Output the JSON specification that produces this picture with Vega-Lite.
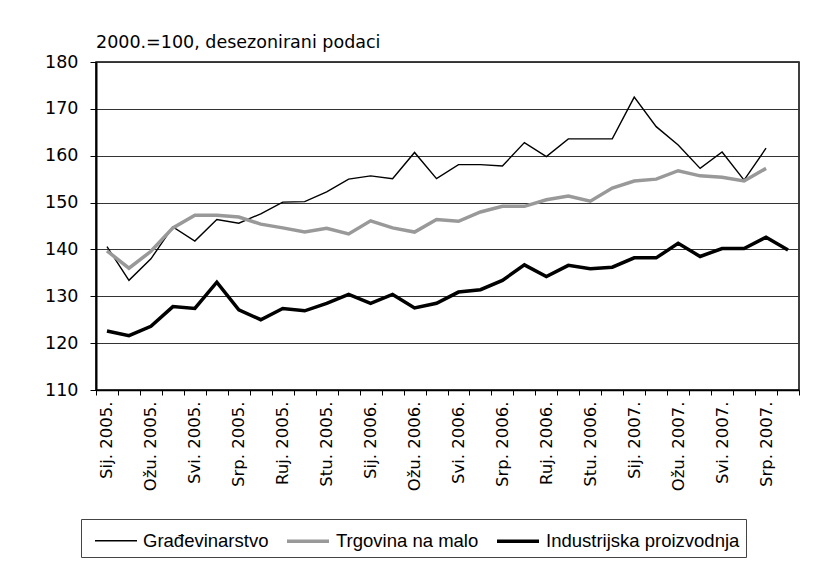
{
  "$schema": "https://vega.github.io/schema/vega-lite/v6.json",
  "width": 703,
  "height": 328,
  "autosize": "none",
  "padding": {"left": 96, "top": 62, "right": 31, "bottom": 186},
  "background": "white",
  "title": {
    "text": "2000.=100, desezonirani podaci",
    "anchor": "start",
    "frame": "group",
    "font": "DejaVu Sans",
    "fontSize": 17.5,
    "fontWeight": "normal",
    "color": "black",
    "offset": 2
  },
  "data": {
    "values": [
      {"m": "Sij. 2005.", "G": 140.6, "T": 139.7, "I": 122.6},
      {"m": "Velj. 2005.", "G": 133.4, "T": 136.0, "I": 121.6},
      {"m": "Ožu. 2005.", "G": 138.0, "T": 139.6, "I": 123.6},
      {"m": "Tra. 2005.", "G": 144.8, "T": 144.6, "I": 127.8},
      {"m": "Svi. 2005.", "G": 141.8, "T": 147.3, "I": 127.4},
      {"m": "Lip. 2005.", "G": 146.4, "T": 147.3, "I": 133.0},
      {"m": "Srp. 2005.", "G": 145.6, "T": 146.9, "I": 127.1},
      {"m": "Kol. 2005.", "G": 147.6, "T": 145.4, "I": 125.0},
      {"m": "Ruj. 2005.", "G": 150.1, "T": 144.6, "I": 127.4},
      {"m": "Lis. 2005.", "G": 150.2, "T": 143.7, "I": 126.9},
      {"m": "Stu. 2005.", "G": 152.3, "T": 144.5, "I": 128.5},
      {"m": "Pro. 2005.", "G": 155.0, "T": 143.3, "I": 130.4},
      {"m": "Sij. 2006.", "G": 155.7, "T": 146.1, "I": 128.5},
      {"m": "Velj. 2006.", "G": 155.1, "T": 144.6, "I": 130.4},
      {"m": "Ožu. 2006.", "G": 160.7, "T": 143.7, "I": 127.5},
      {"m": "Tra. 2006.", "G": 155.1, "T": 146.4, "I": 128.5},
      {"m": "Svi. 2006.", "G": 158.1, "T": 146.0, "I": 130.9},
      {"m": "Lip. 2006.", "G": 158.1, "T": 148.0, "I": 131.4},
      {"m": "Srp. 2006.", "G": 157.8, "T": 149.2, "I": 133.4},
      {"m": "Kol. 2006.", "G": 162.8, "T": 149.2, "I": 136.7},
      {"m": "Ruj. 2006.", "G": 159.8, "T": 150.6, "I": 134.2},
      {"m": "Lis. 2006.", "G": 163.6, "T": 151.4, "I": 136.6},
      {"m": "Stu. 2006.", "G": 163.6, "T": 150.3, "I": 135.9},
      {"m": "Pro. 2006.", "G": 163.6, "T": 153.1, "I": 136.2},
      {"m": "Sij. 2007.", "G": 172.5, "T": 154.6, "I": 138.2},
      {"m": "Velj. 2007.", "G": 166.2, "T": 155.0, "I": 138.2},
      {"m": "Ožu. 2007.", "G": 162.3, "T": 156.8, "I": 141.3},
      {"m": "Tra. 2007.", "G": 157.3, "T": 155.7, "I": 138.5},
      {"m": "Svi. 2007.", "G": 160.8, "T": 155.4, "I": 140.2},
      {"m": "Lip. 2007.", "G": 154.8, "T": 154.6, "I": 140.2},
      {"m": "Srp. 2007.", "G": 161.6, "T": 157.3, "I": 142.6},
      {"m": "Kol. 2007.", "G": null, "T": null, "I": 139.9}
    ]
  },
  "transform": [
    {"fold": ["G", "T", "I"], "as": ["k", "v"]},
    {"lookup": "k", "from": {"data": {"values": [
      {"k": "G", "s": "Građevinarstvo"},
      {"k": "T", "s": "Trgovina na malo"},
      {"k": "I", "s": "Industrijska proizvodnja"}
    ]}, "key": "k", "fields": ["s"]}},
    {"filter": "isValid(datum.v)"}
  ],
  "mark": {"type": "line", "strokeJoin": "miter", "clip": true},
  "encoding": {
    "x": {
      "field": "m",
      "type": "ordinal",
      "sort": null,
      "scale": {"type": "band", "paddingInner": 0, "paddingOuter": 0},
      "axis": {
        "title": null,
        "tickBand": "extent",
        "grid": false,
        "labelAngle": -90,
        "labelAlign": "right",
        "labelBaseline": "middle",
        "labelFont": "DejaVu Sans",
        "labelFontSize": 16.5,
        "labelColor": "black",
        "labelPadding": 6,
        "labelOverlap": false,
        "labelExpr": "test(/^(Velj|Tra|Lip|Kol|Lis|Pro)/, datum.label) ? '' : datum.label",
        "domainColor": "black",
        "domainWidth": 1.5,
        "tickColor": "black",
        "tickSize": 5,
        "tickWidth": 1
      }
    },
    "y": {
      "field": "v",
      "type": "quantitative",
      "scale": {"domain": [110, 180], "nice": false, "zero": false},
      "axis": {
        "title": null,
        "values": [110, 120, 130, 140, 150, 160, 170, 180],
        "grid": true,
        "gridColor": "#333333",
        "gridWidth": 1,
        "labelFont": "DejaVu Sans",
        "labelFontSize": 17.5,
        "labelColor": "black",
        "labelPadding": 12,
        "domainColor": "black",
        "domainWidth": 2,
        "tickColor": "black",
        "tickSize": 6,
        "tickWidth": 1
      }
    },
    "color": {
      "field": "s",
      "type": "nominal",
      "sort": ["Građevinarstvo", "Trgovina na malo", "Industrijska proizvodnja"],
      "scale": {"domain": ["Građevinarstvo", "Trgovina na malo", "Industrijska proizvodnja"], "range": ["#000000", "#999999", "#000000"]},
      "legend": {
        "title": null,
        "orient": "none",
        "legendX": -15,
        "legendY": 457,
        "direction": "horizontal",
        "strokeColor": "#444444",
        "padding": 6,
        "symbolType": "M-0.5,0H2.5",
        "symbolSize": 784,
        "labelFont": "Liberation Sans",
        "labelFontSize": 18.5,
        "labelColor": "black",
        "columnPadding": 9,
        "labelOffset": 26,
        "labelLimit": 400
      }
    },
    "strokeWidth": {
      "field": "s",
      "type": "nominal",
      "sort": ["Građevinarstvo", "Trgovina na malo", "Industrijska proizvodnja"],
      "scale": {"type": "ordinal", "domain": ["Građevinarstvo", "Trgovina na malo", "Industrijska proizvodnja"], "range": [1.4, 3.5, 3.5]},
      "legend": null
    },
    "order": {"field": "k", "sort": "ascending"}
  },
  "config": {
    "view": {"stroke": "black", "strokeWidth": 1.5}
  }
}
